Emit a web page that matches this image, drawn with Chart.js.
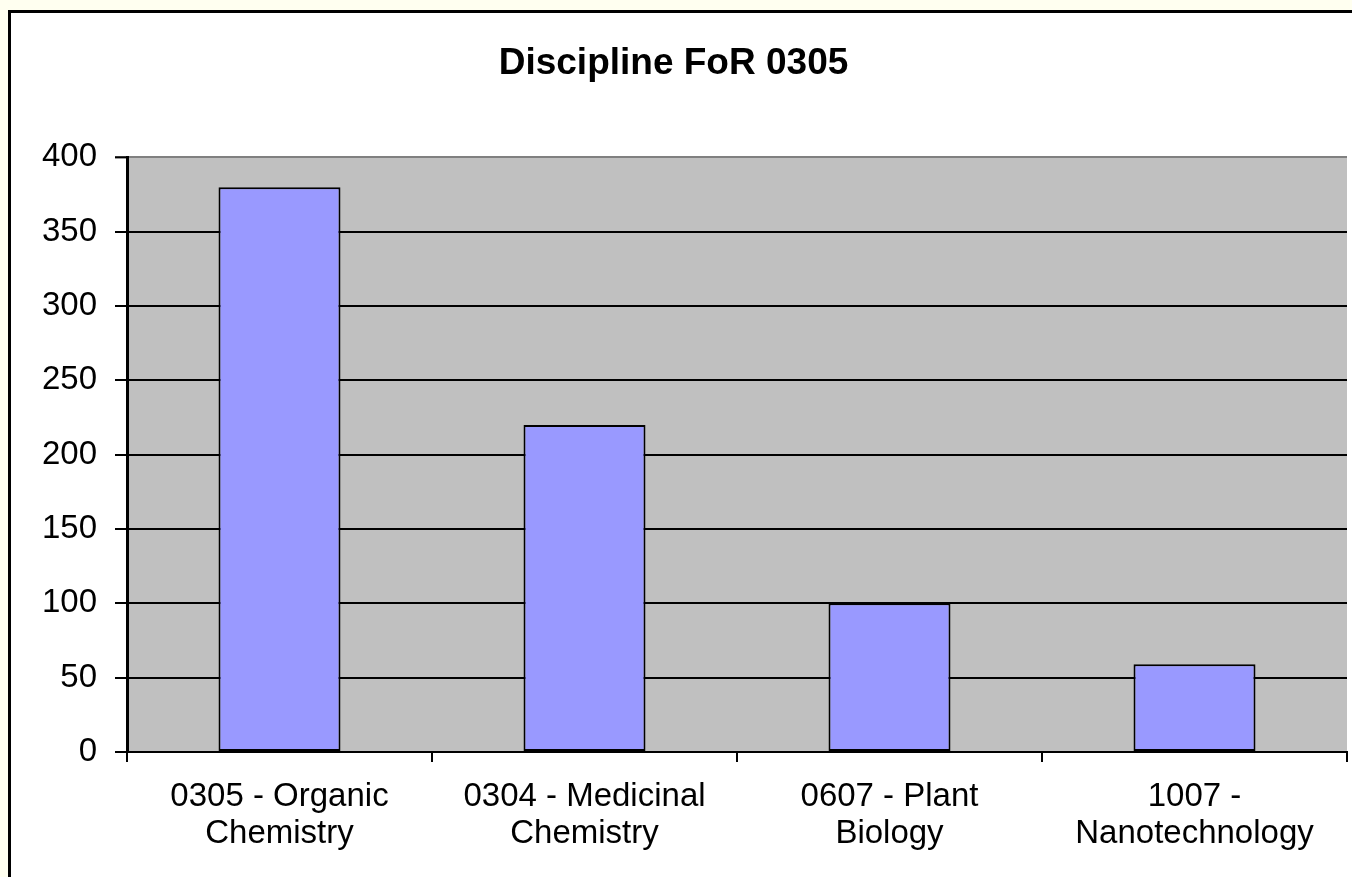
<!DOCTYPE html>
<html>
<head>
<meta charset="utf-8">
<script src="https://cdn.jsdelivr.net/npm/chart.js@4/dist/chart.umd.min.js"></script>
<style>
  html, body { margin: 0; padding: 0; background: #fffff0; }
  #wrap { width: 1352px; height: 877px; }
</style>
</head>
<body>
<div id="wrap"><canvas id="for-chart" width="1352" height="877"></canvas></div>
<script>
// chart values
const categories = [
    ['0305 - Organic', 'Chemistry'],
    ['0304 - Medicinal', 'Chemistry'],
    ['0607 - Plant', 'Biology'],
    ['1007 -', 'Nanotechnology'],
];
const counts = [380, 220, 100, 59];
const yTicks = [0, 50, 100, 150, 200, 250, 300, 350, 400];

// page frame + grey plot area, Excel style
const frame = {
    id: 'frame',
    beforeDraw(chart) {
        const c = chart.ctx;
        const a = chart.chartArea;
        c.save();
        c.fillStyle = '#fffff0';
        c.fillRect(0, 0, chart.width, chart.height);
        c.fillStyle = '#ffffff';
        c.fillRect(8, 10, chart.width, chart.height);
        c.fillStyle = '#000000';
        c.fillRect(8, 10, 3, chart.height);
        c.fillRect(8, 10, chart.width, 3);
        c.fillStyle = '#c0c0c0';
        c.fillRect(a.left, a.top, a.right - a.left, a.bottom - a.top);
        c.restore();
    },
    afterDraw(chart) {
        // black tick mark for the top value (its grid line is grey)
        const y = chart.scales.y;
        const py = y.getPixelForValue(yTicks[yTicks.length - 1]);
        const c = chart.ctx;
        c.save();
        c.strokeStyle = '#000000';
        c.lineWidth = 2;
        c.beginPath();
        c.moveTo(chart.chartArea.left - 12, py);
        c.lineTo(chart.chartArea.left, py);
        c.stroke();
        c.restore();
    }
};

const ctx = document.getElementById('for-chart').getContext('2d');

const forChart = new Chart(ctx, {
    type: 'bar',
    data: {
        labels: categories,
        datasets: [{
            label: 'Discipline FoR 0305',
            data: counts,
            backgroundColor: '#9999ff',
            borderColor: '#000000',
            borderWidth: 2,
            borderSkipped: false,
            categoryPercentage: 1,
            barPercentage: 0.4,
        }],
    },
    options: {
        responsive: false,
        animation: false,
        layout: { padding: { left: 0, right: 5, top: 0, bottom: 0 } },
        plugins: {
            legend: { display: false },
            tooltip: { enabled: false },
            title: {
                display: true,
                text: 'Discipline FoR 0305',
                color: '#000000',
                font: { family: 'Liberation Sans, Arial, sans-serif', size: 37, weight: 'bold', lineHeight: 1.2 },
                padding: { top: 42, bottom: 71 },
            },
        },
        scales: {
            x: {
                grid: {
                    offset: true,
                    drawOnChartArea: false,
                    drawTicks: true,
                    tickLength: 10,
                    color: '#000000',
                    lineWidth: 2,
                },
                border: { display: true, color: '#000000', width: 2 },
                ticks: {
                    color: '#000000',
                    padding: 16,
                    maxRotation: 0,
                    autoSkip: false,
                    font: { family: 'Liberation Sans, Arial, sans-serif', size: 33, lineHeight: 1.12 },
                },
                afterFit(scale) { scale.height = 125; },
            },
            y: {
                min: 0,
                max: 400,
                afterBuildTicks(scale) { scale.ticks = yTicks.map(v => ({ value: v })); },
                grid: {
                    color: (c) => (c.tick && c.tick.value === 400 ? '#808080' : '#000000'),
                    lineWidth: 2,
                    drawTicks: true,
                    tickLength: 12,
                },
                border: { display: true, color: '#000000', width: 3 },
                ticks: {
                    color: '#000000',
                    padding: 18,
                    font: { family: 'Liberation Sans, Arial, sans-serif', size: 33 },
                },
                afterFit(scale) { scale.width = 127; },
            },
        },
    },
    plugins: [frame],
});
</script>
</body>
</html>
